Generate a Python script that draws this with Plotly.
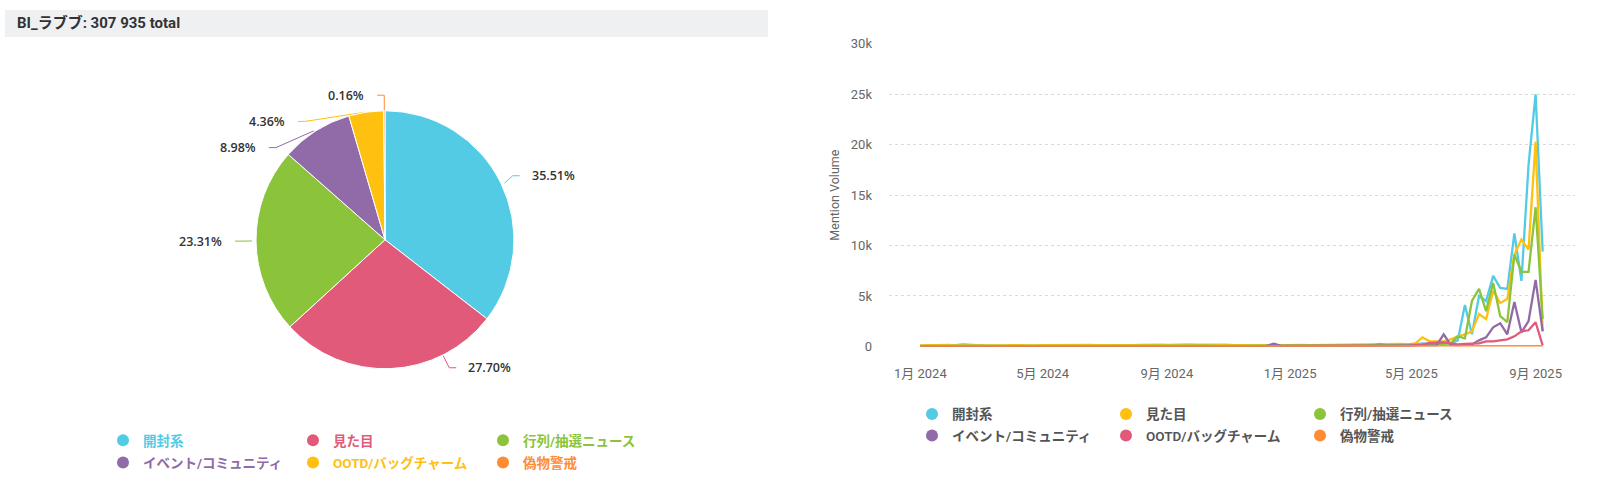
import math
import pandas as pd
import plotly.graph_objects as go

# ---------------- data ----------------
categories = ["開封系", "見た目", "行列/抽選ニュース", "イベント/コミュニティ", "OOTD/バッグチャーム", "偽物警戒"]
pie_pct = [35.51, 27.70, 23.31, 8.98, 4.36, 0.16]
total_mentions = 307935

pie_colors = ["#53CBE4", "#E15A7A", "#8BC33B", "#916AA8", "#FFC010", "#FF8C32"]
line_colors = ["#53CBE4", "#FFC010", "#8BC33B", "#916AA8", "#E15A7A", "#FF8C32"]

week_start = "2024-01-01"
n_weeks = 89
weeks = pd.date_range(week_start, periods=n_weeks, freq="7D")

kaifu = [60, 70, 55, 80, 95, 120, 190, 140, 90, 70,
         60, 50, 45, 55, 40, 45, 50, 40, 35, 45,
         50, 55, 40, 35, 40, 45, 50, 55, 45, 40,
         50, 60, 55, 45, 40, 50, 45, 40, 35, 40,
         45, 50, 40, 45, 40, 35, 40, 50, 45, 40,
         45, 50, 55, 50, 45, 40, 45, 50, 60, 55,
         50, 45, 55, 60, 70, 65, 80, 90, 110,
         150, 200, 300, 250, 300, 350, 300, 600, 4100, 1200,
         5000, 4500, 7000, 5800, 5700, 11200, 6500, 18000, 25000, 9400]

mitame = [90, 110, 100, 120, 140, 110, 100, 120, 130, 110,
          100, 90, 110, 120, 100, 95, 110, 120, 130, 110,
          100, 120, 110, 130, 140, 120, 110, 130, 150, 140,
          130, 150, 170, 200, 180, 160, 190, 220, 200, 170,
          180, 210, 240, 180, 150, 130, 120, 140, 130, 120,
          110, 130, 120, 140, 150, 130, 140, 160, 150, 170,
          160, 180, 170, 190, 200, 180, 210, 230, 250,
          200, 300, 900, 500, 500, 500, 700, 1000, 1200, 1500,
          3200, 2700, 5500, 4300, 4700, 9100, 10600, 9600, 20300, 1500]

gyoretsu = [40, 50, 45, 60, 55, 50, 45, 60, 55, 50,
            45, 40, 50, 55, 45, 40, 50, 45, 40, 50,
            55, 60, 50, 45, 50, 55, 60, 65, 55, 50,
            60, 70, 65, 60, 55, 65, 70, 60, 55, 60,
            65, 70, 60, 55, 60, 65, 55, 60, 70, 65,
            60, 70, 65, 75, 70, 80, 75, 70, 80, 85,
            90, 80, 100, 90, 110, 250, 120, 130, 140,
            150, 200, 200, 250, 200, 250, 300, 1000, 800, 4500,
            5700, 3500, 6300, 3000, 2400, 9100, 7400, 7400, 13800, 2700]

event = [30, 25, 35, 30, 40, 35, 30, 25, 30, 35,
         30, 25, 20, 25, 30, 25, 20, 25, 30, 25,
         20, 25, 30, 25, 20, 25, 30, 35, 30, 25,
         30, 35, 30, 25, 30, 35, 40, 35, 30, 25,
         30, 35, 30, 35, 40, 35, 30, 35, 40, 60,
         280, 60, 40, 35, 30, 35, 40, 35, 30, 40,
         35, 40, 45, 40, 50, 45, 55, 60, 50,
         50, 50, 80, 100, 100, 1200, 150, 100, 200, 200,
         600, 900, 1900, 2300, 1200, 4400, 1400, 2500, 6600, 1500]

ootd = [15, 20, 15, 25, 20, 15, 20, 25, 20, 15,
        20, 15, 20, 25, 20, 15, 20, 25, 20, 20,
        25, 20, 15, 20, 25, 30, 25, 20, 25, 30,
        25, 30, 35, 30, 25, 30, 35, 30, 25, 30,
        35, 30, 25, 30, 35, 30, 25, 30, 35, 30,
        35, 30, 25, 30, 35, 40, 35, 30, 35, 40,
        35, 40, 45, 40, 50, 45, 40, 50, 45,
        50, 100, 150, 350, 400, 400, 300, 200, 250, 250,
        300, 500, 500, 600, 700, 1000, 1500, 1600, 2400, 100]

nisemono = [2, 3, 2, 4, 3, 2, 3, 4, 3, 2,
            3, 2, 3, 4, 3, 2, 3, 4, 2, 3,
            3, 4, 2, 3, 4, 3, 2, 3, 4, 3,
            2, 3, 4, 3, 2, 3, 4, 5, 3, 4,
            3, 4, 5, 3, 4, 3, 4, 5, 4, 3,
            4, 5, 4, 3, 4, 5, 4, 5, 6, 5,
            4, 5, 6, 5, 6, 7, 6, 7, 8,
            8, 10, 9, 12, 10, 11, 12, 14, 15, 18,
            20, 22, 25, 24, 28, 35, 40, 45, 50, 20]

series = [kaifu, mitame, gyoretsu, event, ootd, nisemono]

y_ticks = [0, 5000, 10000, 15000, 20000, 25000, 30000]
x_range = ["2023-12-01", "2025-10-10"]

# ---------------- layout helpers ----------------
W, H = 1600, 496
FONT = "Roboto, 'Noto Sans CJK JP', sans-serif"
LABEL_FONT = "'Open Sans', 'Noto Sans CJK JP', sans-serif"


def px(x):
    return x / W


def py(y):
    return 1 - y / H


fig = go.Figure()

# ---------------- pie ----------------
cx, cy, r = 385, 240, 133
fig.add_trace(go.Pie(
    labels=categories, values=pie_pct, marker=dict(colors=pie_colors, line=dict(color="white", width=1)),
    sort=False, direction="clockwise", rotation=0, textinfo="none", showlegend=False,
    domain=dict(x=[px(cx - r), px(cx + r)], y=[py(cy + r), py(cy - r)]),
    hoverinfo="label+percent",
))

# label placement (outside labels with connectors), derived from slice angles
R_lab, y_min, y_max, spacing, crook_len = 150, 91, 372, 27, 7
tot = sum(pie_pct)
cum = 0
labels_info = []
for i, v in enumerate(pie_pct):
    a = math.radians((cum + v / 2) / tot * 360)
    cum += v
    side = 1 if math.sin(a) > 0 else -1
    labels_info.append(dict(i=i, a=a, side=side, y=cy - R_lab * math.cos(a), mode="free"))

for side in (1, -1):
    items = sorted([d for d in labels_info if d["side"] == side], key=lambda d: d["y"])
    prev = None
    for d in items:
        if d["y"] > y_max:
            d["mode"] = "bottom"
        elif d["y"] < y_min:
            d["mode"] = "top"
        y = min(max(d["y"], y_min), y_max)
        if prev is not None and y < prev + spacing:
            y = prev + spacing
            d["mode"] = "free"
        d["y"] = y
        prev = y

annotations = []
shapes = []
for d in labels_info:
    i, a, side, y = d["i"], d["a"], d["side"], d["y"]
    dy = y - cy
    if d["mode"] == "top":
        # label sits above the slice: connector drops straight down onto it
        x = cx + R_lab * math.sin(a) + side * crook_len
    else:
        x = cx + side * math.sqrt(max(R_lab ** 2 - dy ** 2, 0))
    crook = x - side * crook_len
    if d["mode"] in ("top", "bottom"):
        ang = math.atan2(crook - cx, -(y - cy))
    else:
        ang = a
    tx, ty = cx + r * math.sin(ang), cy - r * math.cos(ang)
    path = f"M {px(x)} {py(y)} L {px(crook)} {py(y)} L {px(tx)} {py(ty)}"
    shapes.append(dict(type="path", path=path, xref="paper", yref="paper",
                       line=dict(color=pie_colors[i], width=1), layer="below"))
    annotations.append(dict(
        text=f"{pie_pct[i]:.2f}%", xref="paper", yref="paper",
        x=px(x + side * (10 if side > 0 else 11)), y=py(y),
        xanchor="left" if side > 0 else "right", yanchor="middle", showarrow=False,
        font=dict(family=LABEL_FONT, size=12.5, color="#333333", weight=600),
    ))

# title bar
shapes.append(dict(type="rect", xref="paper", yref="paper", x0=px(5), x1=px(768), y0=py(31), y1=py(3),
                   fillcolor="#EFF0F2", line=dict(width=0), layer="below"))
title_text = f"BI_ラブブ: {total_mentions:,}".replace(",", " ") + " total"
annotations.append(dict(text=f"<b>{title_text}</b>", xref="paper", yref="paper", x=px(15), y=py(17),
                        xanchor="left", yanchor="middle", showarrow=False,
                        font=dict(family=FONT, size=15, color="#333333")))

# ---------------- lines ----------------
for name, vals, col in zip(categories, series, line_colors):
    fig.add_trace(go.Scatter(x=weeks, y=vals, mode="lines", name=name,
                             line=dict(color=col, width=2.3), showlegend=False))

# legend entries (dot markers)
for k, (name, col) in enumerate(zip(categories, line_colors)):
    fig.add_trace(go.Scatter(x=[None], y=[None], mode="markers", name=name,
                             marker=dict(color=col, size=12), showlegend=True,
                             legend="legend" if k < 3 else "legend2", hoverinfo="skip"))
for k, (name, col) in enumerate(zip(categories, pie_colors)):
    fig.add_trace(go.Scatter(x=[None], y=[None], mode="markers",
                             name=f"<span style='color:{col}'><b>{name}</b></span>",
                             marker=dict(color=col, size=12), showlegend=True,
                             legend="legend3" if k < 3 else "legend4", hoverinfo="skip"))


def legend_cfg(dot_x, row_y, color, weight, ew):
    return dict(orientation="h", x=px(dot_x - 20), xanchor="left", y=py(row_y), yanchor="middle",
                entrywidth=ew, entrywidthmode="pixels", itemwidth=30,
                bgcolor="rgba(0,0,0,0)", borderwidth=0,
                font=dict(family=FONT, size=13.5, color=color, weight=weight))


fig.update_layout(
    width=W, height=H,
    margin=dict(l=0, r=0, t=0, b=0),
    paper_bgcolor="white", plot_bgcolor="white",
    xaxis=dict(domain=[px(889), px(1575)], type="date", range=x_range,
               tick0=week_start, dtick="M4", tickformat="%-m月 %Y",
               showgrid=False, zeroline=False, showline=False, ticks="",
               tickfont=dict(family=FONT, size=13, color="#666666"), ticklabelstandoff=18),
    yaxis=dict(domain=[py(350), py(38)], range=[0, 30000], tickvals=y_ticks, tickformat="~s",
               showgrid=True, gridcolor="#D9D9DE", griddash="dot", gridwidth=1, zeroline=False,
               showline=False, ticks="",
               tickfont=dict(family=FONT, size=13, color="#666666"), ticklabelstandoff=16,
               title=dict(text="Mention Volume", font=dict(family=FONT, size=12.5, color="#666666"),
                          standoff=8)),
    legend=legend_cfg(932, 420, "#555555", 600, 149),
    legend2=legend_cfg(932, 442, "#555555", 600, 149),
    legend3=legend_cfg(123, 447, "#555555", 600, 145),
    legend4=legend_cfg(123, 470, "#555555", 600, 145),
    shapes=shapes,
    annotations=annotations,
    showlegend=True,
)

fig.write_html("out.html", config={"displayModeBar": False},
               post_script="document.body.style.margin='0';document.body.style.overflow='hidden';")
